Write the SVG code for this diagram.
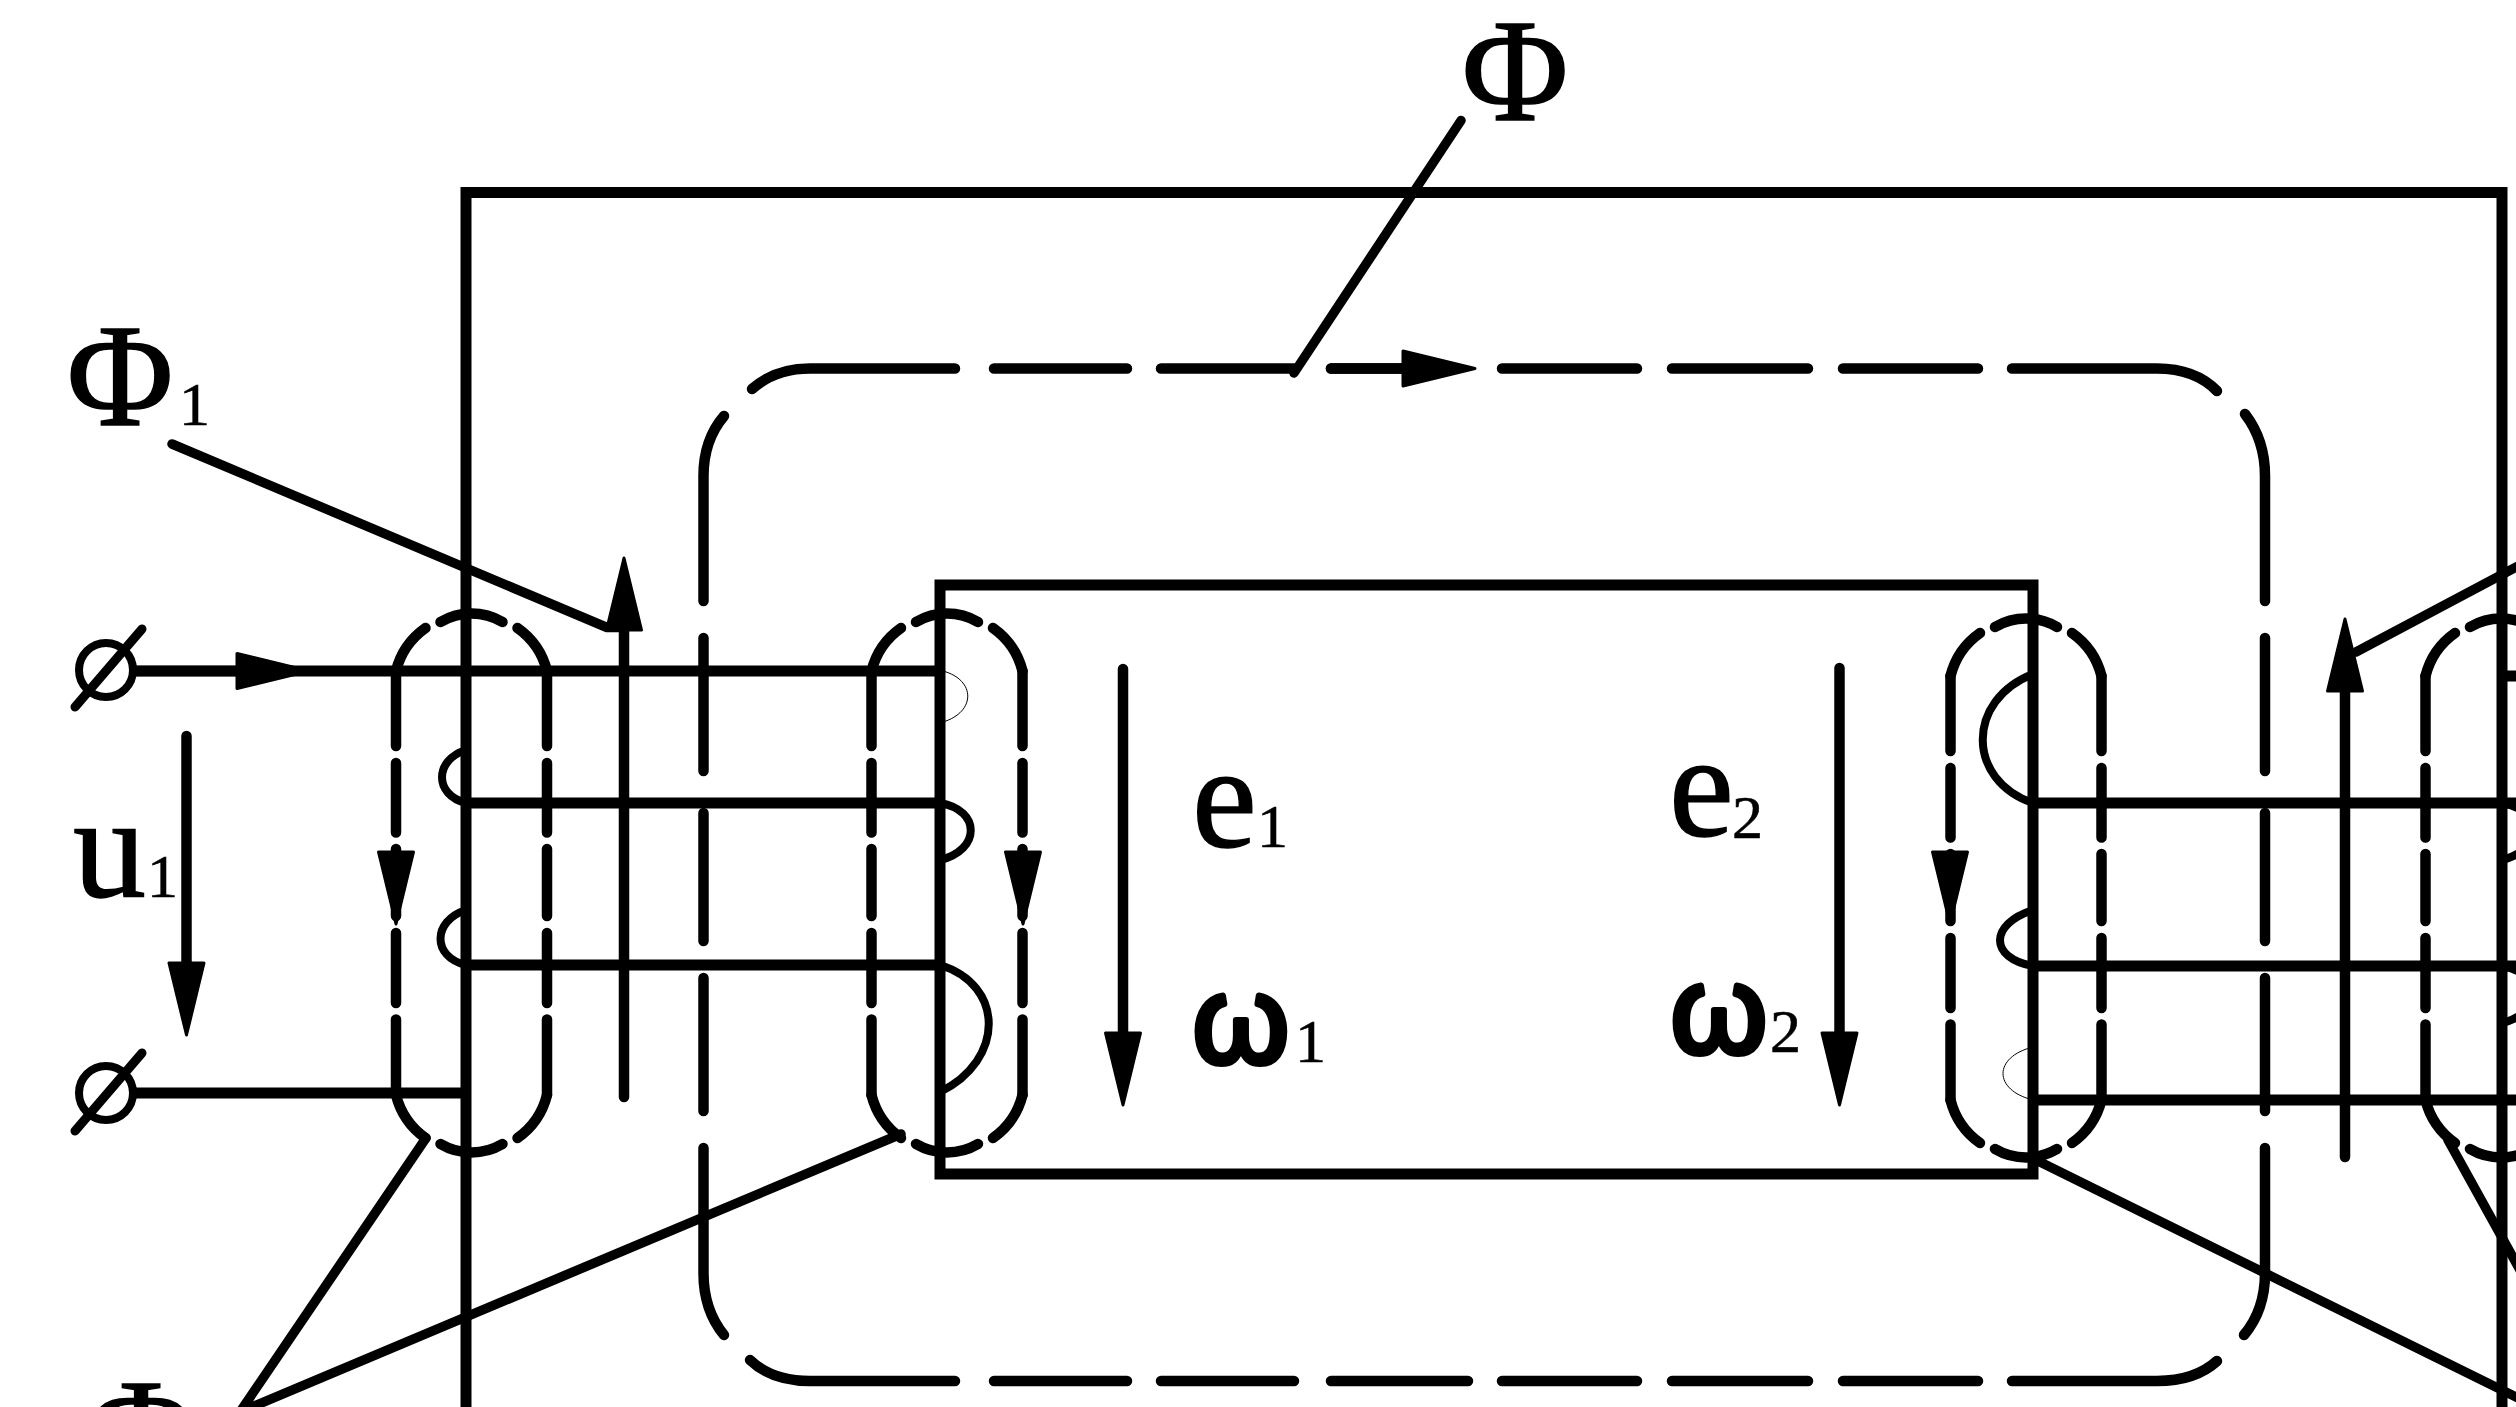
<svg xmlns="http://www.w3.org/2000/svg" width="2516" height="1407" viewBox="0 0 2516 1407">
<style>
.ln{fill:none;stroke:#000;stroke-width:10.500;stroke-linecap:round;stroke-linejoin:round}
.bt{fill:none;stroke:#000;stroke-width:11;stroke-linecap:butt;stroke-linejoin:miter}
.ld{fill:none;stroke:#000;stroke-width:9.500;stroke-linecap:round;stroke-linejoin:round}
.bp{fill:none;stroke:#000;stroke-width:8;stroke-linecap:butt}
.th{fill:none;stroke:#000;stroke-width:1}
.ar{fill:none;stroke:#000;stroke-width:10.500;stroke-linecap:round}
.t{font-family:"Liberation Serif","Times New Roman",serif;fill:#000;stroke:#000}
.big{font-size:146px;stroke-width:1.400}
.sub{font-size:62px;stroke-width:.6}
.om{font-family:"Liberation Sans",Arial,sans-serif;font-size:124px;fill:#000;stroke:#000;stroke-width:6;stroke-linejoin:round;text-anchor:middle}
</style>
<defs>
<marker id="ah" markerUnits="userSpaceOnUse" markerWidth="80" markerHeight="44" viewBox="0 0 80 44" refX="2" refY="22" orient="auto" overflow="visible">
<polygon points="2,4.500 74,22 2,39.500" fill="#000" stroke="#000" stroke-width="3" stroke-linejoin="round"/>
</marker>
<g id="flux-loop" class="ln">
<path d="M-75.500 0 A75 75 0 0 1 -46 -43"/>
<path d="M-31 -49 A61 61 0 0 1 31 -49"/>
<path d="M46 -43 A75 75 0 0 1 75.500 0"/>
<path d="M-75.500 0V75M-75.500 92V161.500M-75.500 178V245M-75.500 262V332M-75.500 348.500V424"/>
<path d="M75.500 0V75M75.500 92V161.500M75.500 178V245M75.500 262V332M75.500 348.500V424"/>
<path d="M-75.500 424 A75 75 0 0 0 -46 467"/>
<path d="M-31 473 A61 61 0 0 0 31 473"/>
<path d="M46 467 A75 75 0 0 0 75.500 424"/>
</g>
</defs>
<g id="core">
<path class="bt" d="M466 1415V192.500H2502V1415"/>
<path class="bt" d="M940 585H2033V1174H940Z"/>
</g>
<g id="main-flux" class="ln">
<path d="M752 389 Q775 368.500 810 368.500H955M994 368.500H1127M1161 368.500H1294M1331 368.500H1403M1502 368.500H1637M1672 368.500H1808M1843 368.500H1978M2012 368.500H2157 Q2195 368.500 2217 391"/>
<path d="M724 416 Q703.500 440 703.500 476V601M703.500 638V771M703.500 813V941M703.500 978V1111M703.500 1148V1273 Q703.500 1310 724 1335"/>
<path d="M750 1360 Q772 1381 810 1381H955M994 1381H1127M1161 1381H1294M1331 1381H1468M1502 1381H1637M1672 1381H1808M1843 1381H1978M2012 1381H2157 Q2195 1381 2217 1361"/>
<path d="M2245 414 Q2265 440 2265 476V601M2265 638V771M2265 813V941M2265 978V1111M2265 1148V1273 Q2265 1310 2244 1335"/>
</g>
<g id="loop-1"><use href="#flux-loop" x="471.500" y="671"/></g>
<g id="loop-2"><use href="#flux-loop" x="947" y="671"/></g>
<g id="loop-3"><use href="#flux-loop" x="2026" y="676"/></g>
<g id="loop-4"><use href="#flux-loop" x="2501" y="676"/></g>
<g id="windings">
<path class="bt" d="M135 671H940M466 803H940M466 965H940M135 1093H466M2033 803H2516M2033 966H2516M2033 1100H2516M2502 676H2516"/>
<path class="th" d="M943 671C976 680 976 712 943 722"/>
<path class="bp" d="M466 803C434 795 434 760 466 750"/>
<path class="bp" d="M940 803C981 810 981 850 940 860"/>
<path class="bp" d="M466 965C432 957 432 921 466 910"/>
<path class="bp" d="M940 965C1005 985 1005 1060 940 1092"/>
<path class="bp" d="M2033 803C1966 780 1966 700 2033 674"/>
<path class="bp" d="M2033 966C1989 958 1989 924 2033 910"/>
<path class="th" d="M2033 1100C1993 1090 1993 1057 2033 1047"/>
<path class="bp" d="M2502 803C2543 810 2543 850 2502 860"/>
<path class="bp" d="M2502 966C2543 973 2543 1013 2502 1023"/>
</g>
<g id="terminals" style="fill:none;stroke:#000">
<circle cx="106" cy="670" r="27" stroke-width="8"/>
<circle cx="106" cy="1093" r="27" stroke-width="8"/>
<path d="M75 707L142 629M75 1131L142 1053" stroke-width="9" stroke-linecap="round"/>
</g>
<g id="connectors">
<path class="ar" d="M135 671H237" marker-end="url(#ah)"/>
<path class="ar" d="M186.500 736V963" marker-end="url(#ah)"/>
<path d="M396 760V852" style="fill:none" marker-end="url(#ah)"/>
<path d="M1023 760V852" style="fill:none" marker-end="url(#ah)"/>
<path d="M1950 760V852" style="fill:none" marker-end="url(#ah)"/>
<path class="ar" d="M1123 669V1033" marker-end="url(#ah)"/>
<path class="ar" d="M1839.500 668V1033" marker-end="url(#ah)"/>
<path class="ar" d="M624 1097V630" marker-end="url(#ah)"/>
<path class="ar" d="M2345 1157V691" marker-end="url(#ah)"/>
<path class="ar" d="M1331 368.500H1403" marker-end="url(#ah)"/>
<path class="ld" d="M172 444L607 627.500H624"/>
<path class="ld" d="M1461 120.500L1294 373"/>
<path class="ld" d="M426 1138L240 1412"/>
<path class="ld" d="M901 1134L240 1412"/>
<path class="ld" d="M2356 652L2520 565"/>
<path class="ld" d="M2038 1161L2520 1399"/>
<path class="ld" d="M2448 1140L2520 1270"/>
</g>
<g id="labels">
<text class="t big" x="1515" y="120" text-anchor="middle">Φ</text>
<text class="t big" x="120" y="425" text-anchor="middle">Φ</text>
<text class="t sub" x="179" y="425">1</text>
<text class="t big" x="141" y="1480" text-anchor="middle">Φ</text>
<text class="t big" x="73" y="897">u</text>
<text class="t sub" x="147" y="897">1</text>
<text class="t big" x="1192" y="847">e</text>
<text class="t sub" x="1257" y="847">1</text>
<text class="t big" x="1669" y="836">e</text>
<text class="t sub" x="1732" y="838">2</text>
<text class="om" x="1241" y="1063">ω</text>
<text class="t sub" x="1295" y="1062">1</text>
<text class="om" x="1719" y="1053">ω</text>
<text class="t sub" x="1770" y="1052">2</text>
</g>
</svg>
